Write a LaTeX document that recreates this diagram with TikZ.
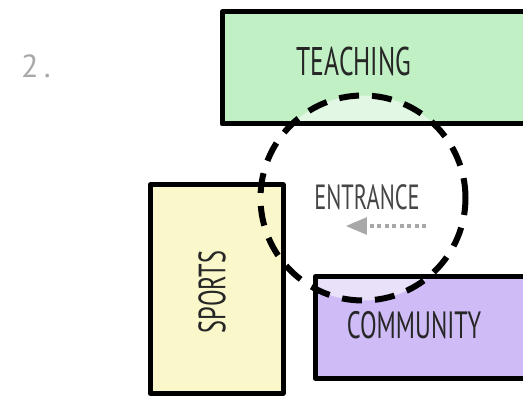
\documentclass[tikz,border=0pt]{standalone}
\usepackage{fontspec}
\setmainfont{PT Sans}
\usepackage{graphicx}
\usetikzlibrary{arrows, positioning}
\definecolor{teachgreen}{RGB}{192,240,196}
\definecolor{sportyellow}{RGB}{250,248,202}
\definecolor{commpurple}{RGB}{207,188,246}
\definecolor{arrowgray}{RGB}{168,168,168}
\definecolor{inkgray}{RGB}{70,70,70}
\newcommand{\sketchtext}[1]{\scalebox{0.64}[1]{#1}}
\tikzstyle{block} = [rectangle, inner sep=0pt, outer sep=0pt]
\tikzstyle{outline} = [line width=5pt, line join=round]
\tikzstyle{ring} = [circle, minimum size=205pt, inner sep=0pt]
\tikzstyle{handtext} = [inner sep=0pt, text=black!85]
\tikzstyle{arrow} = [line width=4pt, arrowgray, dash pattern=on 4pt off 3.5pt, -triangle 45]

\begin{document}
\begin{tikzpicture}[x=1pt, y=-1pt]
\useasboundingbox (0,0) rectangle (523,401);
% fills of the three blocks
\node (teach) [block, fill=teachgreen, minimum width=330pt, minimum height=112pt] at (387,68) {};
\node (comm) [block, fill=commpurple, minimum width=230pt, minimum height=101pt] at (430,327.5) {};
% entrance zone
\node (ring) [ring, fill=white, fill opacity=0.55] at (363,198) {};
\node (sport) [block, fill=sportyellow, minimum width=133pt, minimum height=208pt] at (216.5,289) {};
\draw [outline] (teach.south west) rectangle (teach.north east);
\draw [outline] (sport.south west) rectangle (sport.north east);
\draw [outline] (comm.south west) rectangle (comm.north east);
\node (ringline) [ring, draw, line width=6pt, dash pattern=on 20pt off 13pt] at (ring) {};
% labels
\node (num) [text=arrowgray, font=\fontsize{32}{32}\selectfont] at (36,66) {2\,.};
\node (teachtxt) [handtext, font=\fontsize{40}{40}\selectfont] at (354,62) {\sketchtext{TEACHING}};
\node (enttxt) [handtext, text=inkgray, font=\fontsize{35}{35}\selectfont] at (367,197) {\sketchtext{ENTRANCE}};
\node (sporttxt) [handtext, rotate=90, font=\fontsize{38}{38}\selectfont] at (212,292) {\sketchtext{SPORTS}};
\node (commtxt) [handtext, font=\fontsize{38}{38}\selectfont] at (414,325) {\sketchtext{COMMUNITY}};
% entry direction
\coordinate (arrstart) at (426,226);
\coordinate (arrend) at (346,226);
\draw [arrow] (arrstart) -- (arrend);
\end{tikzpicture}
\end{document}
